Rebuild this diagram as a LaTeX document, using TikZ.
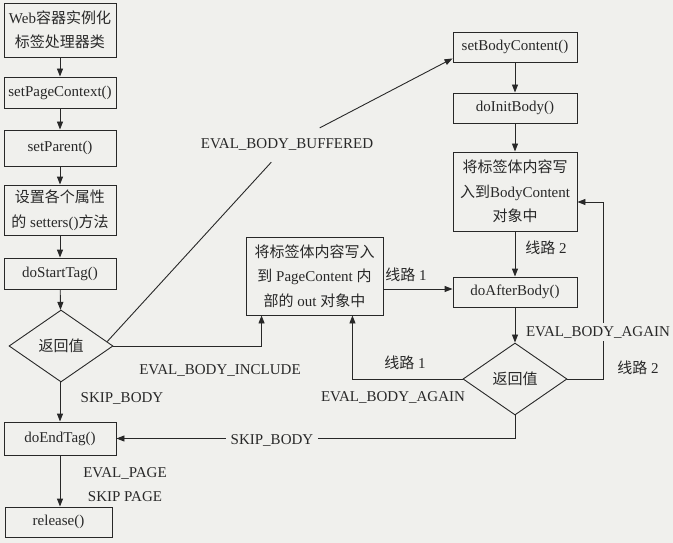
\documentclass[tikz,border=0pt]{standalone}
\usepackage{fontspec}
\setmainfont{Liberation Serif}
\newfontfamily\cjk[Scale=1.0]{Noto Sans CJK SC}
\usetikzlibrary{arrows.meta,calc,shapes.geometric}
\definecolor{bgc}{RGB}{240,240,237}
\definecolor{ink}{RGB}{40,40,40}
\tikzset{
  every node/.style={text=ink,font=\fontsize{15}{24.5}\selectfont},
  box/.style={draw=ink,line width=0.9pt,minimum width=112pt,align=center,inner sep=1pt},
  dia/.style={draw=ink,line width=0.9pt,diamond,minimum width=104pt,minimum height=72pt,inner sep=0pt},
  lbl/.style={inner sep=2pt},
  cut/.style={fill=bgc,inner xsep=5pt,inner ysep=3pt},
  conn/.style={draw=ink,line width=0.9pt},
  arr/.style={conn,-{Triangle[length=8pt,width=6pt]}}
}
\begin{document}
\begin{tikzpicture}[x=1pt,y=-1pt]
\fill[bgc] (0,0) rectangle (673,543);
\useasboundingbox (0,0) rectangle (673,543);
% left column
\node[box,minimum height=54pt] (b1) at (60,30) {Web{\cjk 容器实例化}\\{\cjk 标签处理器类}};
\node[box,minimum height=31pt] (b2) at (60,92.5) {setPageContext()};
\node[box,minimum height=36pt] (b3) at (60,148) {setParent()};
\node[box,minimum height=50pt] (b4) at (60,210) {{\cjk 设置各个属性}\\{\cjk 的} setters(){\cjk 方法}};
\node[box,minimum height=31pt] (b5) at (60,273.5) {doStartTag()};
\node[dia] (d1) at (61,346) {\cjk 返回值};
\node[box,minimum height=33pt] (de) at (60,438.5) {doEndTag()};
\node[box,minimum height=30pt,minimum width=107pt] (rl) at (58.5,522) {release()};
% middle box
\node[box,minimum height=78pt,minimum width=137pt] (pc) at (314.5,276) {{\cjk 将标签体内容写入}\\{\cjk 到} PageContent {\cjk 内}\\{\cjk 部的} out {\cjk 对象中}};
% right column
\node[box,minimum height=30pt,minimum width=124pt] (sb) at (515,47) {setBodyContent()};
\node[box,minimum height=30pt,minimum width=124pt] (di) at (515,108) {doInitBody()};
\node[box,minimum height=79pt,minimum width=124pt] (bc) at (515,191.5) {{\cjk 将标签体内容写}\\{\cjk 入到}BodyContent\\{\cjk 对象中}};
\node[box,minimum height=30pt,minimum width=124pt] (da) at (515,292) {doAfterBody()};
\node[dia] (d2) at (515,379) {\cjk 返回值};
% left column connectors
\draw[arr] (b1) -- (b2);
\draw[arr] (b2) -- (b3);
\draw[arr] (b3) -- (b4);
\draw[arr] (b4) -- (b5);
\draw[arr] (b5) -- (d1);
\draw[arr] (d1.south) -- (de.north |- d1.south) -- (de.north);
\draw[arr] (de) -- (rl.north -| de.south);
\node[lbl] (lsk) at (122,398) {SKIP\_BODY};
\node[lbl] (lep) at (125,473) {EVAL\_PAGE};
\node[lbl] (lsp) at (125,497) {SKIP PAGE};
% include path
\coordinate (pcin) at ([xshift=16pt]pc.south west);
\draw[arr] (d1.east) -| (pcin);
\node[lbl] (linc) at (220,370) {EVAL\_BODY\_INCLUDE};
% buffered path
\node[inner xsep=2pt,inner ysep=11pt] (buf) at (287,145) {EVAL\_BODY\_BUFFERED};
\coordinate (d1s) at ($(d1.east)!0.12!(d1.north)$);
\coordinate (sbin) at ([yshift=4pt]sb.south west);
\draw[conn] (d1s) -- (buf);
\draw[arr] (buf) -- (sbin);
% right column connectors
\draw[arr] (sb) -- (di);
\draw[arr] (di) -- (bc);
\draw[arr] (bc) -- (da);
\node[lbl] (l2a) at (546,248) {{\cjk 线路} 2};
\draw[arr] (da) -- (d2);
% loop 2
\coordinate (bcin) at ([yshift=-10.5pt]bc.east);
\draw[arr] (d2.east) -- ++(36,0) |- (bcin);
\node[cut] (lag1) at (598,332) {EVAL\_BODY\_AGAIN};
\node[lbl] (l2b) at (638,368) {{\cjk 线路} 2};
% loop 1
\coordinate (pcin2) at ([xshift=-31pt]pc.south east);
\draw[arr] (d2.west) -| (pcin2);
\node[lbl] (l1b) at (405,363) {{\cjk 线路} 1};
\node[lbl] (lag2) at (393,397) {EVAL\_BODY\_AGAIN};
% pc to doAfterBody
\coordinate (pcout) at ([yshift=-13pt]pc.east);
\draw[arr] (pcout) -- (pcout -| da.west);
\node[lbl] (l1a) at (406,275) {{\cjk 线路} 1};
% skip body from d2
\draw[arr] (d2.south) |- (de.east);
\node[cut] (lsk2) at (272,440) {SKIP\_BODY};
\end{tikzpicture}
\end{document}
